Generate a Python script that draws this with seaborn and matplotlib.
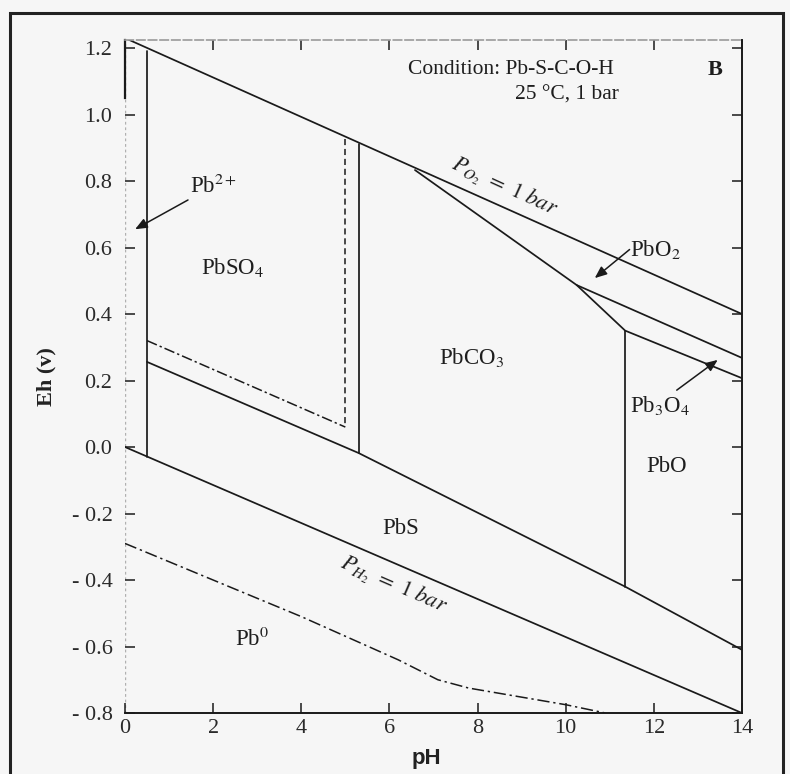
import matplotlib
matplotlib.use("Agg")
import matplotlib.pyplot as plt
import seaborn as sns
import pandas as pd
from matplotlib.patches import Rectangle

# ---------------- data ----------------
o2_ph = [0.0, 14.0]
o2_eh = [1.23, 0.40]                       # P_O2 = 1 bar
h2_ph = [0.0, 14.0]
h2_eh = [0.0, -0.80]                       # P_H2 = 1 bar
pb2_ph = [0.5, 0.5]
pb2_eh = [1.19, -0.03]                     # Pb2+ / PbSO4
sulf_ph = [0.5, 5.3, 11.35, 14.0]
sulf_eh = [0.256, -0.018, -0.42, -0.61]    # PbSO4,PbCO3,PbO / PbS
sulf2_ph = [0.5, 5.0]
sulf2_eh = [0.32, 0.06]                    # dashed sulfate boundary
vdash_ph = [5.0, 5.0]
vdash_eh = [0.925, 0.06]                   # dashed vertical
carb_ph = [5.3, 5.3]
carb_eh = [0.91, -0.018]                   # PbSO4 / PbCO3
pbo2_ph = [6.58, 10.25, 14.0]
pbo2_eh = [0.833, 0.487, 0.268]            # PbO2 lower boundary
pb3o4_ph = [10.25, 11.35, 14.0]
pb3o4_eh = [0.487, 0.35, 0.207]            # Pb3O4 lower boundary
pbo_ph = [11.35, 11.35]
pbo_eh = [0.35, -0.42]                     # PbCO3 / PbO
pb0_ph = [0.0, 4.0, 6.2, 7.1, 7.8, 10.0, 10.9]
pb0_eh = [-0.29, -0.51, -0.64, -0.70, -0.725, -0.775, -0.80]  # PbS / Pb0

region_names = ["Pb$^{2+}$", "PbSO$_4$", "PbCO$_3$", "PbO$_2$", "Pb$_3$O$_4$",
                "PbO", "PbS", "Pb$^0$"]
region_ph = [2.0, 2.45, 7.87, 12.04, 12.15, 12.3, 6.25, 2.88]
region_eh = [0.785, 0.54, 0.268, 0.594, 0.126, -0.06, -0.245, -0.58]

x_ticks = [0, 2, 4, 6, 8, 10, 12, 14]
y_ticks = [-0.8, -0.6, -0.4, -0.2, 0.0, 0.2, 0.4, 0.6, 0.8, 1.0, 1.2]
y_labels = ["- 0.8", "- 0.6", "- 0.4", "- 0.2", "0.0", "0.2", "0.4", "0.6",
            "0.8", "1.0", "1.2"]

# ---------------- style ----------------
sns.set_theme(style="ticks")
plt.rcParams["font.family"] = ["Liberation Serif", "DejaVu Serif"]
plt.rcParams["mathtext.fontset"] = "stix"

BG = "#f6f6f6"
fig = plt.figure(figsize=(7.9, 7.74), dpi=100, facecolor=BG)
ax = fig.add_axes([0.1582, 0.0788, 0.781, 0.8699])
ax.set_facecolor(BG)

LW = 1.25
INK = "#1a1a1a"


def bline(xs, ys, **kw):
    df = pd.DataFrame({"pH": xs, "Eh": ys})
    style = dict(color=INK, lw=LW)
    style.update(kw)
    sns.lineplot(data=df, x="pH", y="Eh", estimator=None, sort=False,
                 ax=ax, legend=False, **style)


bline(o2_ph, o2_eh)
bline(h2_ph, h2_eh)
bline(pb2_ph, pb2_eh)
bline(sulf_ph, sulf_eh)
bline(sulf2_ph, sulf2_eh, linestyle=(0, (7, 2, 1.5, 2)), lw=1.1)
bline(vdash_ph, vdash_eh, linestyle=(0, (4, 2.5)), lw=1.1)
bline(carb_ph, carb_eh)
bline(pbo2_ph, pbo2_eh)
bline(pb3o4_ph, pb3o4_eh)
bline(pbo_ph, pbo_eh)
bline(pb0_ph, pb0_eh, linestyle=(0, (8, 2.5, 1.5, 2.5)), lw=1.1)

ax.set_xlim(0, 14)
ax.set_ylim(-0.8, 1.225)

# axes frame
for s in ["bottom", "right"]:
    ax.spines[s].set_color(INK)
    ax.spines[s].set_linewidth(1.4)
ax.spines["top"].set_color("#9a9a9a")
ax.spines["top"].set_linewidth(1.2)
ax.spines["top"].set_linestyle((0, (5, 2)))
ax.spines["left"].set_color(INK)
ax.spines["left"].set_linewidth(1.6)
ax.spines["left"].set_bounds(1.05, 1.225)
ax.axvline(0, color="#b0b0b0", lw=1.0, linestyle=(0, (2, 2)), zorder=0)

ax.set_xticks(x_ticks)
ax.set_xticklabels([str(t) for t in x_ticks])
ax.set_yticks(y_ticks)
ax.set_yticklabels(y_labels)
ax.tick_params(axis="both", which="both", direction="in", length=7, width=1.1,
               color=INK, labelsize=16, labelcolor="#2a2a2a",
               top=True, right=True)
ax.tick_params(axis="x", pad=4)
ax.tick_params(axis="y", pad=9)

ax.set_xlabel("pH", fontsize=16, fontweight="bold", family="Liberation Sans",
              color="#222222")
ax.xaxis.label.set_va("center")
ax.xaxis.set_label_coords(0.489, -0.067)
ax.set_ylabel("Eh (v)", fontsize=16, fontweight="bold", color="#222222")
ax.yaxis.label.set_va("center")
ax.yaxis.set_label_coords(-0.128, 0.5)

# region labels
for name, px, py in zip(region_names, region_ph, region_eh):
    ax.text(px, py, name, fontsize=16.5, ha="center", va="center", color="#1e1e1e")

# arrows
arrow_kw = dict(arrowstyle="-|>,head_length=0.6,head_width=0.25", color=INK, lw=1.1,
                shrinkA=0, shrinkB=0)
ax.annotate("", xy=(0.23, 0.655), xytext=(1.43, 0.743), arrowprops=arrow_kw)
ax.annotate("", xy=(10.66, 0.508), xytext=(11.45, 0.594), arrowprops=arrow_kw)
ax.annotate("", xy=(13.45, 0.262), xytext=(12.52, 0.171), arrowprops=arrow_kw)

# condition text
ax.text(11.1, 1.134, "Condition: Pb-S-C-O-H", fontsize=15.5, ha="right",
        va="center", color="#1e1e1e")
ax.text(11.2, 1.059, "25 °C, 1 bar", fontsize=15.5, ha="right", va="center",
        color="#1e1e1e")
ax.text(13.38, 1.134, "B", fontsize=16, fontweight="bold", ha="center",
        va="center", color="#1e1e1e")

# gas pressure labels along water lines
ax.text(8.6, 0.78, r"$\mathit{P_{O_2}\ =\ 1\ bar}$", fontsize=16, rotation=-24.5,
        ha="center", va="center", rotation_mode="anchor", color="#1e1e1e")
ax.text(6.1, -0.415, r"$\mathit{P_{H_2}\ =\ 1\ bar}$", fontsize=16, rotation=-23.5,
        ha="center", va="center", rotation_mode="anchor", color="#1e1e1e")

# outer frame of the scanned figure
fig.patches.append(Rectangle((10 / 790, -0.02), 773 / 790, 1 - 13 / 774 + 0.02,
                             transform=fig.transFigure, fill=False,
                             edgecolor="#222222", lw=2.2))

fig.savefig("out.png", dpi=100, facecolor=BG)
